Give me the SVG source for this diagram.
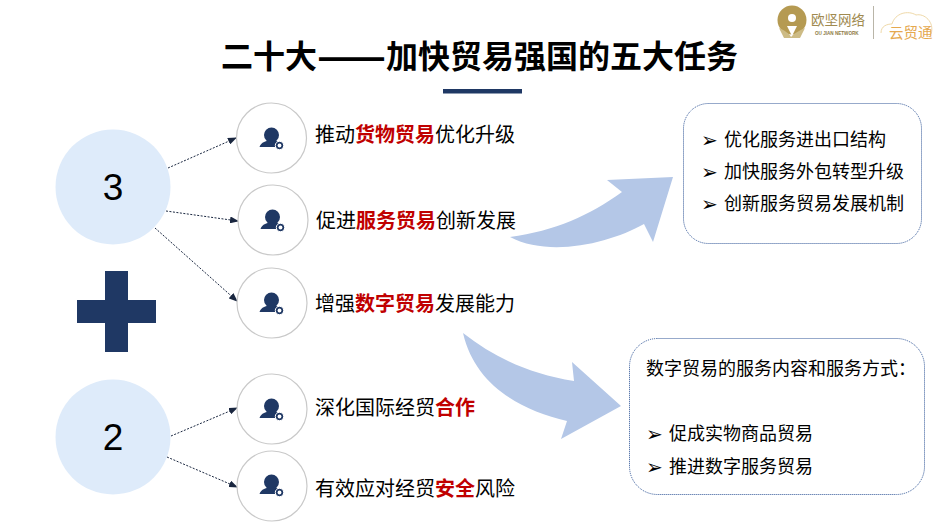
<svg xmlns="http://www.w3.org/2000/svg" width="950" height="527" viewBox="0 0 950 527">
<style>
text{font-family:"Noto Sans CJK SC","Liberation Sans",sans-serif;fill:#000}
.t{font-size:20px}
.r{font-weight:700;fill:#c00000}
.b{font-size:18px}
.bu{font-family:"DejaVu Sans",sans-serif;font-size:20px}
.big{fill:#deebfa}
.sm{fill:#fff;stroke:#c9c9c9;stroke-width:1.2}
.box{fill:#fff;stroke:#2f5597;stroke-width:1;stroke-dasharray:1 1}
.arr{fill:#b4c7e7}
.c{stroke:#1a2740;stroke-width:1;stroke-dasharray:2 1.500;fill:none;marker-end:url(#h)}
.num{font-family:"Liberation Sans",sans-serif;font-size:37px}
</style>
<defs>
<marker id="h" markerWidth="9" markerHeight="7" refX="8" refY="3.5" orient="auto" markerUnits="userSpaceOnUse"><path d="M0 0L9 3.5L0 7Z" fill="#1a2740"/></marker>
<g id="u">
<circle cx="-0.500" cy="-4" r="7.500" fill="#1f3864"/>
<path d="M-12.500 8C-11 3-6 1.500 0 1.500C5 1.500 8 3 9 8Z" fill="#1f3864"/>
<circle cx="7.500" cy="6.500" r="4.200" fill="#1f3864" stroke="#fff"/>
<circle cx="7.500" cy="6.500" r="1.900" fill="#fff"/>
</g>
</defs>
<g id="logo">
<circle cx="792" cy="20" r="14.500" fill="#b59a52"/>
<circle cx="792" cy="18" r="4" fill="#fff"/>
<path d="M792 36L787 26H797Z" fill="#fff"/>
<path d="M779 28C785 31 789 33 791 37C794 33 799 31 805 28L800 38H784Z" fill="#cdbb85"/>
<text x="811" y="25" style="font-size:13.500px;fill:#a08a50">欧坚网络</text>
<text x="815" y="34.500" style="font-size:4.600px;fill:#8d7a46;font-family:'Liberation Sans',sans-serif;font-weight:700">OU JIAN NETWORK</text>
<path d="M873.500 6V39" stroke="#b9b5a8" stroke-width="1"/>
<path d="M881 33C881 26 887 24 892 24C895 13 908 10 916 15C924 13 935 22 931 34" fill="none" stroke="#efd9a8" stroke-width="1"/>
<text x="889" y="38" style="font-size:14.500px;fill:#e5a94f">云贸通</text>
</g>
<text id="title" x="221" y="68" style="font-size:32px;font-weight:700">二十大<tspan dy="3" style="font-size:40.600px">——</tspan><tspan dy="-3">加快贸易强国的五大任务</tspan></text>
<rect id="rule" x="443" y="89" width="79" height="4.500" fill="#1f3864"/>
<g id="connectors">
<path class="c" d="M168 168L236 138"/>
<path class="c" d="M166 211L238 221"/>
<path class="c" d="M155 228L237 301"/>
<path class="c" d="M171 436L237 408"/>
<path class="c" d="M167 457L237 487"/>
</g>
<g id="n3"><circle class="big" cx="113" cy="187" r="57.500"/><text class="num" x="113" y="200" text-anchor="middle">3</text></g>
<g id="n2"><circle class="big" cx="113" cy="437" r="57.500"/><text class="num" x="113" y="450" text-anchor="middle">2</text></g>
<path id="plus" d="M105 271H128V300H156V323H128V352H105V323H77V300H105Z" fill="#1f3864"/>
<g id="i1"><circle class="sm" cx="271.500" cy="138" r="35"/><use href="#u" x="272" y="139"/><text class="t" x="315" y="142">推动<tspan class="r">货物贸易</tspan>优化升级</text></g>
<g id="i2"><circle class="sm" cx="273" cy="220" r="35"/><use href="#u" x="273" y="221"/><text class="t" x="316" y="228">促进<tspan class="r">服务贸易</tspan>创新发展</text></g>
<g id="i3"><circle class="sm" cx="272" cy="303" r="35"/><use href="#u" x="272" y="304"/><text class="t" x="315" y="311">增强<tspan class="r">数字贸易</tspan>发展能力</text></g>
<g id="i4"><circle class="sm" cx="272" cy="409" r="35"/><use href="#u" x="272" y="410"/><text class="t" x="315" y="415">深化国际经贸<tspan class="r">合作</tspan></text></g>
<g id="i5"><circle class="sm" cx="272" cy="486" r="35"/><use href="#u" x="272" y="486"/><text class="t" x="315" y="496">有效应对经贸<tspan class="r">安全</tspan>风险</text></g>
<path id="a1" class="arr" d="M510 237C555 231 590 215 622 192L607 180L673 177L653 242L644 224C610 243 550 258 510 237Z"/>
<path id="a2" class="arr" d="M463 333C495 358 530 374 574 381L572 362L621 406L561 439L567 421C520 410 475 385 463 333Z"/>
<g id="box1">
<rect class="box" x="683.500" y="103.500" width="238" height="140" rx="25"/>
<text class="bu" x="701" y="147">➢</text><text class="b" x="724" y="146">优化服务进出口结构</text>
<text class="bu" x="701" y="179">➢</text><text class="b" x="724" y="178">加快服务外包转型升级</text>
<text class="bu" x="701" y="211">➢</text><text class="b" x="724" y="210">创新服务贸易发展机制</text>
</g>
<g id="box2">
<rect class="box" x="629.500" y="338.500" width="295" height="156" rx="28"/>
<text class="b" x="646" y="375">数字贸易的服务内容和服务方式：</text>
<text class="bu" x="646" y="441">➢</text><text class="b" x="669" y="440">促成实物商品贸易</text>
<text class="bu" x="646" y="474">➢</text><text class="b" x="669" y="473">推进数字服务贸易</text>
</g>
</svg>
